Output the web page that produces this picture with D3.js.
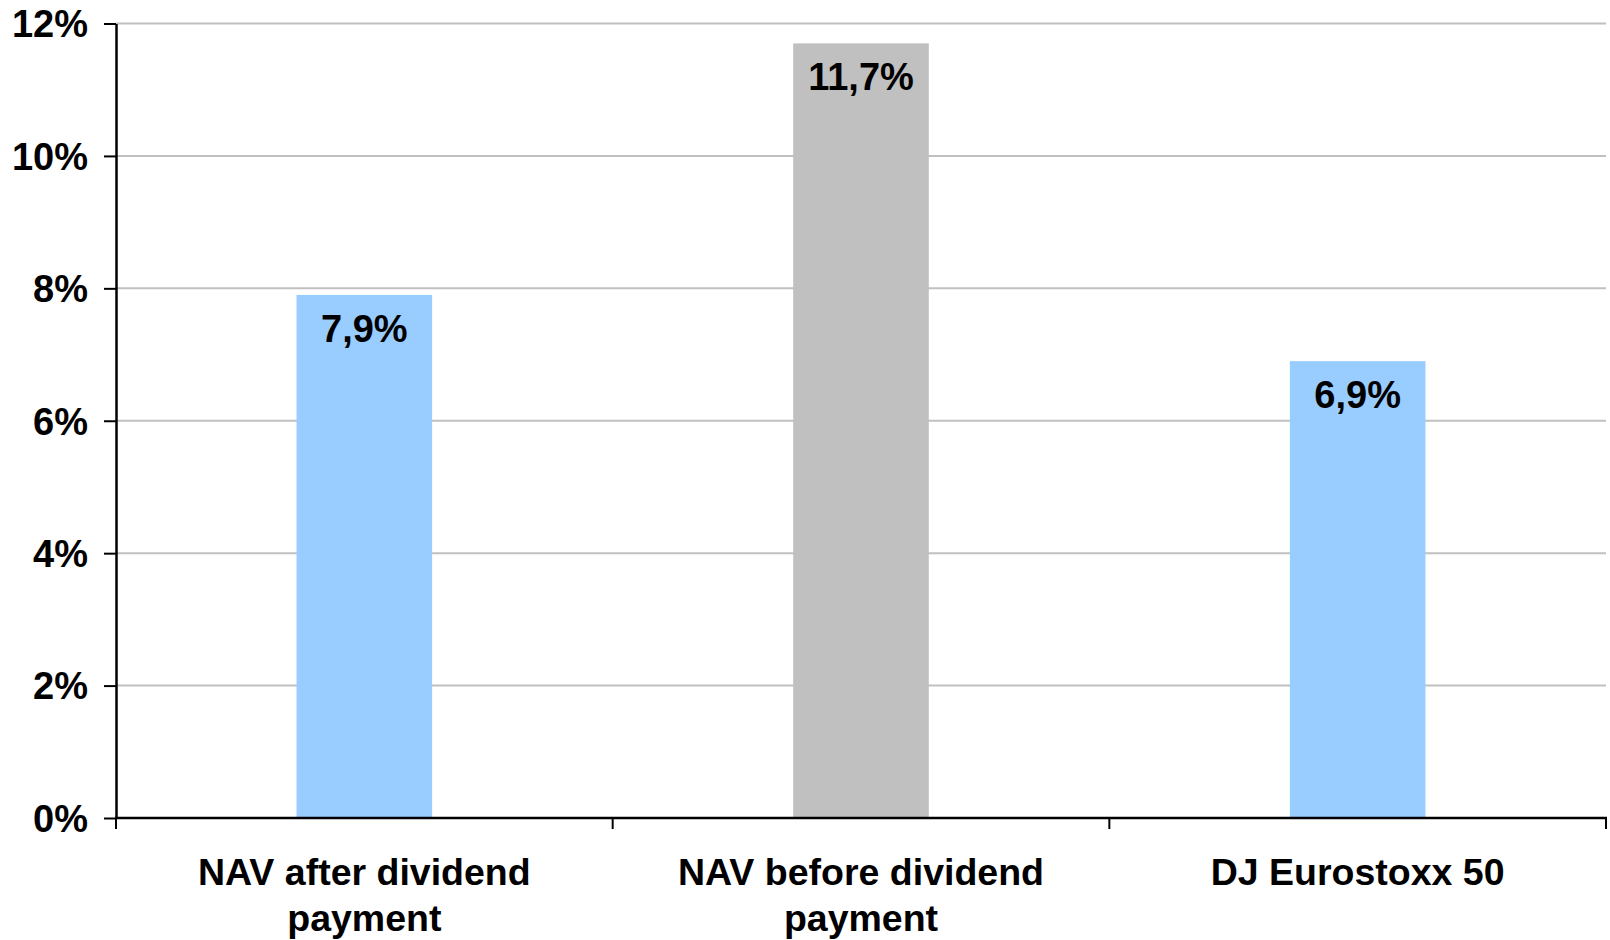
<!DOCTYPE html>
<html>
<head>
<meta charset="utf-8">
<script src="https://cdn.jsdelivr.net/npm/d3@7"></script>
<style>
  html, body { margin: 0; padding: 0; background: #fff; }
  svg { display: block; font-family: "Liberation Sans", Arial, sans-serif; font-weight: bold; }
</style>
</head>
<body>
<svg id="chart" width="1610" height="940"></svg>
<script>
const categories = ["NAV after dividend payment", "NAV before dividend payment", "DJ Eurostoxx 50"];
const categoryLines = [["NAV after dividend", "payment"], ["NAV before dividend", "payment"], ["DJ Eurostoxx 50"]];
const values = [7.9, 11.7, 6.9];
const valueLabels = ["7,9%", "11,7%", "6,9%"];
const barColors = ["#99ccff", "#c0c0c0", "#99ccff"];
const yTicks = [0, 2, 4, 6, 8, 10, 12];
const yTickLabels = ["0%", "2%", "4%", "6%", "8%", "10%", "12%"];

(function () {
const svg = d3.select("#chart");
const mLeft = 116, mRight = 1606, mTop = 23.5, mBottom = 818;

const x = d3.scaleBand().domain(categories).range([mLeft, mRight]).paddingInner(0.727).paddingOuter(0.3635);
const y = d3.scaleLinear().domain([0, 12]).range([mBottom, mTop]);

// gridlines
svg.append("g").selectAll("line").data(yTicks.filter(t => t > 0)).join("line")
  .attr("x1", mLeft).attr("x2", mRight)
  .attr("y1", d => y(d)).attr("y2", d => y(d))
  .attr("stroke", "#c0c0c0").attr("stroke-width", 2);

// bars
svg.append("g").selectAll("rect").data(categories).join("rect")
  .attr("x", d => x(d)).attr("width", x.bandwidth())
  .attr("y", (d, i) => y(values[i]))
  .attr("height", (d, i) => mBottom - y(values[i]))
  .attr("fill", (d, i) => barColors[i]);

// value labels
svg.append("g").selectAll("text").data(categories).join("text")
  .attr("x", d => x(d) + x.bandwidth() / 2)
  .attr("y", (d, i) => y(values[i]) + 47)
  .attr("text-anchor", "middle")
  .attr("font-size", 38)
  .attr("fill", "#000")
  .text((d, i) => valueLabels[i]);

// y axis
const yAxis = d3.axisLeft(y).tickValues(yTicks).tickFormat((d, i) => yTickLabels[i]).tickSize(12).tickSizeOuter(0);
const gy = svg.append("g").attr("transform", `translate(${mLeft},0)`).call(yAxis);
gy.select(".domain").attr("stroke", "#000").attr("stroke-width", 2.5);
gy.selectAll(".tick line").attr("stroke", "#000").attr("stroke-width", 2);
gy.selectAll(".tick text")
  .attr("font-size", 38).attr("font-weight", "bold").attr("fill", "#000")
  .attr("font-family", "'Liberation Sans', Arial, sans-serif")
  .attr("x", -28).attr("dy", "0.35em");

// x axis line
svg.append("line").attr("x1", mLeft - 1).attr("x2", mRight + 1).attr("y1", mBottom).attr("y2", mBottom)
  .attr("stroke", "#000").attr("stroke-width", 2.5);

// category boundary ticks
const step = x.step();
const boundaries = d3.range(categories.length + 1).map(i => mLeft + i * step);
svg.append("g").selectAll("line").data(boundaries).join("line")
  .attr("x1", d => d).attr("x2", d => d)
  .attr("y1", mBottom).attr("y2", mBottom + 11)
  .attr("stroke", "#000").attr("stroke-width", 2);

// category labels
const cl = svg.append("g").selectAll("text").data(categories).join("text")
  .attr("text-anchor", "middle")
  .attr("font-size", 37.5)
  .attr("fill", "#000");
cl.each(function(d, i) {
  const t = d3.select(this);
  categoryLines[i].forEach((line, j) => {
    t.append("tspan")
      .attr("x", x(d) + x.bandwidth() / 2)
      .attr("y", 885 + j * 46)
      .text(line);
  });
});
})();
</script>
</body>
</html>
